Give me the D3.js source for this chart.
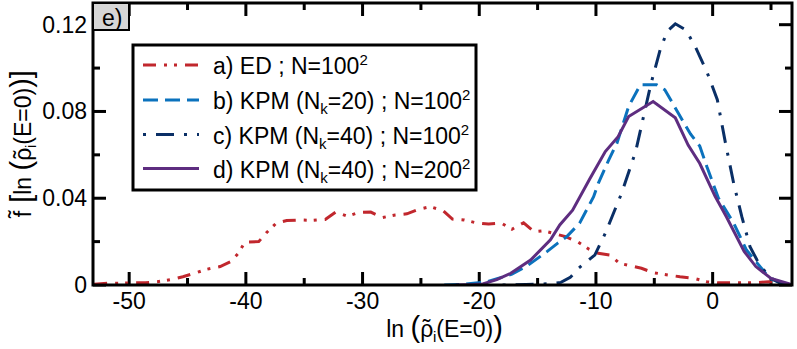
<!DOCTYPE html>
<html>
<head>
<meta charset="utf-8">
<script src="https://cdn.jsdelivr.net/npm/d3@7"></script>
<style>
  body { margin: 0; background: #fff; }
  text { font-family: "Liberation Sans", Arial, Helvetica, sans-serif; fill: #000; }
</style>
</head>
<body>
<div id="chart"></div>
<script>
// curve data: [ln rho, f]
const edData = [
    [-53, 0.0004], [-51.8, 0.0008], [-50.7, 0.0008], [-49.7, 0.001], [-48.6, 0.001],
    [-47.6, 0.0015], [-46.3, 0.0026], [-45.4, 0.0038], [-44.4, 0.0054], [-43.4, 0.0072],
    [-42.2, 0.0085], [-41.3, 0.0108], [-40.6, 0.0149], [-40.1, 0.0197], [-38.9, 0.0200],
    [-38.2, 0.0243], [-37.4, 0.0285], [-36.5, 0.0297], [-35.3, 0.0300], [-34.3, 0.0298],
    [-33.2, 0.0302], [-32.3, 0.0336], [-31.3, 0.0317], [-30.3, 0.0335], [-29.3, 0.0336],
    [-28.3, 0.0311], [-27.2, 0.0323], [-26.2, 0.0328], [-25.2, 0.0349], [-24.2, 0.0361],
    [-23.1, 0.0343], [-22.3, 0.0304], [-21.3, 0.0300], [-20.3, 0.0287], [-19.2, 0.0281],
    [-18.1, 0.0285], [-17.2, 0.0257], [-16.2, 0.0287], [-15.3, 0.0246], [-14.5, 0.0250],
    [-12.6, 0.0223], [-11.6, 0.0200], [-10.6, 0.0165], [-9.8, 0.0146], [-8.8, 0.0138],
    [-8.0, 0.0100], [-7.0, 0.0088], [-6.1, 0.0077], [-5.1, 0.0057], [-3.8, 0.0046],
    [-2.8, 0.0038], [-1.6, 0.0031], [-0.5, 0.0015], [0.4, 0.0010], [1.5, 0.0010],
    [2.5, 0.0010], [3.6, 0.0010], [4.8, 0.0015], [5.8, 0.0005], [6.8, 0.0002]
];
const kpm20Data = [
    [-23, 0], [-21.5, 0.0003], [-20.5, 0.0008], [-19.3, 0.0015], [-18.4, 0.003],
    [-17.2, 0.005], [-15.9, 0.0088], [-14.2, 0.0154], [-13.3, 0.0192], [-12.5, 0.0223],
    [-11.4, 0.0285], [-10.2, 0.0407], [-9.8, 0.0469], [-8.9, 0.0577], [-8.2, 0.0654],
    [-7.2, 0.0823], [-6.2, 0.0923], [-4.8, 0.0923], [-4.1, 0.0900], [-3.1, 0.0807],
    [-1.9, 0.0696], [-1.1, 0.0640], [-0.5, 0.0546], [0.5, 0.0400], [1.8, 0.0285],
    [2.9, 0.0161], [3.6, 0.0115], [4.9, 0.0030], [6.0, 0.0008], [6.8, 0.0002]
];
const kpm40Data = [
    [-18, 0], [-16, 0.0002], [-14, 0.0006], [-13, 0.0012], [-12.2, 0.0035],
    [-11.5, 0.0077], [-10.1, 0.0138], [-9.2, 0.0238], [-7.8, 0.0423], [-6.6, 0.0615],
    [-5.3, 0.0925], [-4.5, 0.1084], [-3.9, 0.1169], [-3.2, 0.1204], [-2.3, 0.1176],
    [-1.5, 0.1100], [-0.5, 0.0984], [0.4, 0.0854], [1.1, 0.0654], [1.8, 0.0469],
    [2.5, 0.0315], [3.2, 0.0177], [3.8, 0.0115], [4.8, 0.0038], [5.8, 0.0008], [6.8, 0.0001]
];
const kpm40LargeData = [
    [-22, 0], [-20.5, 0.0002], [-19.7, 0.0005], [-18.5, 0.0025], [-17.3, 0.0054],
    [-15.6, 0.0115], [-13.9, 0.0208], [-13.1, 0.0277], [-12.0, 0.0345], [-10.5, 0.0492],
    [-9.2, 0.0615], [-8.1, 0.0684], [-7.2, 0.0777], [-5.1, 0.0846], [-3.2, 0.0771],
    [-2.1, 0.0645], [-1.1, 0.0560], [0.2, 0.0410], [1.2, 0.0312], [2.7, 0.0155],
    [3.7, 0.0085], [5.0, 0.0030], [6.6, 0.0005], [6.8, 0.0003]
];

const xMajor = [-50, -40, -30, -20, -10, 0];
const xMinor = [-45, -35, -25, -15, -5, 5];
const yMajor = [0, 0.04, 0.08, 0.12];
const yMinor = [0.02, 0.06, 0.10];

const series = [
    { data: edData, color: "#c1272d", dash: "13,8,3,7,3,8",
      label: [["a) ED ; N=100"], ["2", "sup"]] },
    { data: kpm20Data, color: "#0b72bd", dash: "15,7",
      label: [["b) KPM (N"], ["k", "sub"], ["=20) ; N=100"], ["2", "sup"]] },
    { data: kpm40Data, color: "#0a2f66", dash: "3,10,18,10",
      label: [["c) KPM (N"], ["k", "sub"], ["=40) ; N=100"], ["2", "sup"]] },
    { data: kpm40LargeData, color: "#5e2d80", dash: null,
      label: [["d) KPM (N"], ["k", "sub"], ["=40) ; N=200"], ["2", "sup"]] }
];

const width = 797, height = 349;
const margin = { top: 3, right: 5, bottom: 64, left: 93 };
const fontSize = 23;

const svg = d3.select("#chart").append("svg")
    .attr("width", width)
    .attr("height", height);

const x = d3.scaleLinear().domain([-53.1, 6.8]).range([margin.left, width - margin.right]);
const y = d3.scaleLinear().domain([0, 0.13]).range([height - margin.bottom, margin.top]);

const x0 = margin.left, x1 = width - margin.right;
const y0 = height - margin.bottom, y1 = margin.top;

const defs = svg.append("defs");
defs.append("clipPath").attr("id", "plot")
    .append("rect")
    .attr("x", x0).attr("y", y1).attr("width", x1 - x0).attr("height", y0 - y1);

// inward ticks on all four sides (thin filled rects)
const tickW = 3;
const tickG = svg.append("g").attr("fill", "#000");
function xTickMarks(vals, len) {
    vals.forEach(v => {
        tickG.append("rect").attr("x", x(v) - tickW / 2).attr("y", y0 - len)
            .attr("width", tickW).attr("height", len);
        tickG.append("rect").attr("x", x(v) - tickW / 2).attr("y", y1)
            .attr("width", tickW).attr("height", len);
    });
}
function yTickMarks(vals, len) {
    vals.forEach(v => {
        tickG.append("rect").attr("x", x0).attr("y", y(v) - tickW / 2)
            .attr("width", len).attr("height", tickW);
        tickG.append("rect").attr("x", x1 - len).attr("y", y(v) - tickW / 2)
            .attr("width", len).attr("height", tickW);
    });
}
xTickMarks(xMajor, 13);
xTickMarks(xMinor, 7);
yTickMarks(yMajor, 13);
yTickMarks(yMinor, 7);

// curves
const lineGen = d3.line().x(d => x(d[0])).y(d => y(d[1]));
const curves = svg.append("g").attr("clip-path", "url(#plot)");
series.forEach(s => {
    curves.append("path")
        .datum(s.data)
        .attr("fill", "none")
        .attr("stroke", s.color)
        .attr("stroke-width", 3)
        .attr("stroke-dasharray", s.dash)
        .attr("d", lineGen);
});

// tick labels
svg.selectAll(".xlab").data(xMajor).enter().append("text")
    .attr("x", d => x(d)).attr("y", y0 + 24)
    .attr("text-anchor", "middle")
    .style("font-size", fontSize + "px")
    .text(d => String(d));
svg.selectAll(".ylab").data(yMajor).enter().append("text")
    .attr("x", x0 - 6).attr("y", d => y(d) + 8)
    .attr("text-anchor", "end")
    .style("font-size", fontSize + "px")
    .text(d => d === 0 ? "0" : d3.format(".2f")(d));

// frame
svg.append("rect")
    .attr("x", x0).attr("y", y1)
    .attr("width", x1 - x0).attr("height", y0 - y1)
    .attr("fill", "none").attr("stroke", "#000").attr("stroke-width", 3);

// panel tag
svg.append("rect")
    .attr("x", x0).attr("y", y1)
    .attr("width", 36).attr("height", 27)
    .attr("fill", "#d6d6d6").attr("stroke", "#000").attr("stroke-width", 2);
svg.append("text")
    .attr("x", x0 + 9).attr("y", y1 + 23)
    .style("font-size", fontSize + "px")
    .text("e)");

// axis titles: tilde accents placed by hand over rho and f
function rhoPart(t) {
    t.append("tspan").text("\u03c1");
    t.append("tspan").attr("dx", -10.5).attr("dy", -1).text("\u02dc");
    t.append("tspan").attr("dx", 2.5).attr("dy", 6).style("font-size", "15px").text("i");
    t.append("tspan").attr("dy", -5).text("(E=0)");
}
const xTitle = svg.append("text")
    .attr("x", (x0 + x1) / 2 + 2).attr("y", 337)
    .attr("text-anchor", "middle")
    .style("font-size", fontSize + "px");
xTitle.append("tspan").text("ln ");
xTitle.append("tspan").style("font-size", "29px").text("(");
rhoPart(xTitle);
xTitle.append("tspan").style("font-size", "29px").text(")");

const yTitle = svg.append("text")
    .attr("transform", `translate(31,${(y0 + y1) / 2}) rotate(-90)`)
    .attr("text-anchor", "middle")
    .style("font-size", fontSize + "px");
yTitle.append("tspan").text("f");
yTitle.append("tspan").attr("dx", -7).attr("dy", -6).text("\u02dc");
yTitle.append("tspan").attr("dx", 1).attr("dy", 6).text(" ");
yTitle.append("tspan").style("font-size", "29px").text("[");
yTitle.append("tspan").text("ln ");
yTitle.append("tspan").style("font-size", "29px").text("(");
rhoPart(yTitle);
yTitle.append("tspan").style("font-size", "29px").text(")]");

// legend
function drawLegend() {
    const lx = 133, ly = 45, lw = 343, lh = 145;
    const rowY = [65, 100, 134.5, 168.5];
    svg.append("rect")
        .attr("x", lx).attr("y", ly).attr("width", lw).attr("height", lh)
        .attr("fill", "#fff").attr("stroke", "#000").attr("stroke-width", 3);

    series.forEach((s, i) => {
        const yy = rowY[i];
        svg.append("line")
            .attr("x1", 143).attr("x2", 199)
            .attr("y1", yy).attr("y2", yy)
            .attr("stroke", s.color).attr("stroke-width", 3)
            .attr("stroke-dasharray", s.dash);
        const t = svg.append("text")
            .attr("x", 213).attr("y", yy + 9)
            .style("font-size", fontSize + "px");
        let shift = 0;
        s.label.forEach(([str, kind]) => {
            const target = kind === "sub" ? 5 : kind === "sup" ? -9 : 0;
            t.append("tspan")
                .attr("dy", target - shift)
                .style("font-size", kind ? "15px" : null)
                .text(str);
            shift = target;
        });
    });
}
drawLegend();
</script>
</body>
</html>
